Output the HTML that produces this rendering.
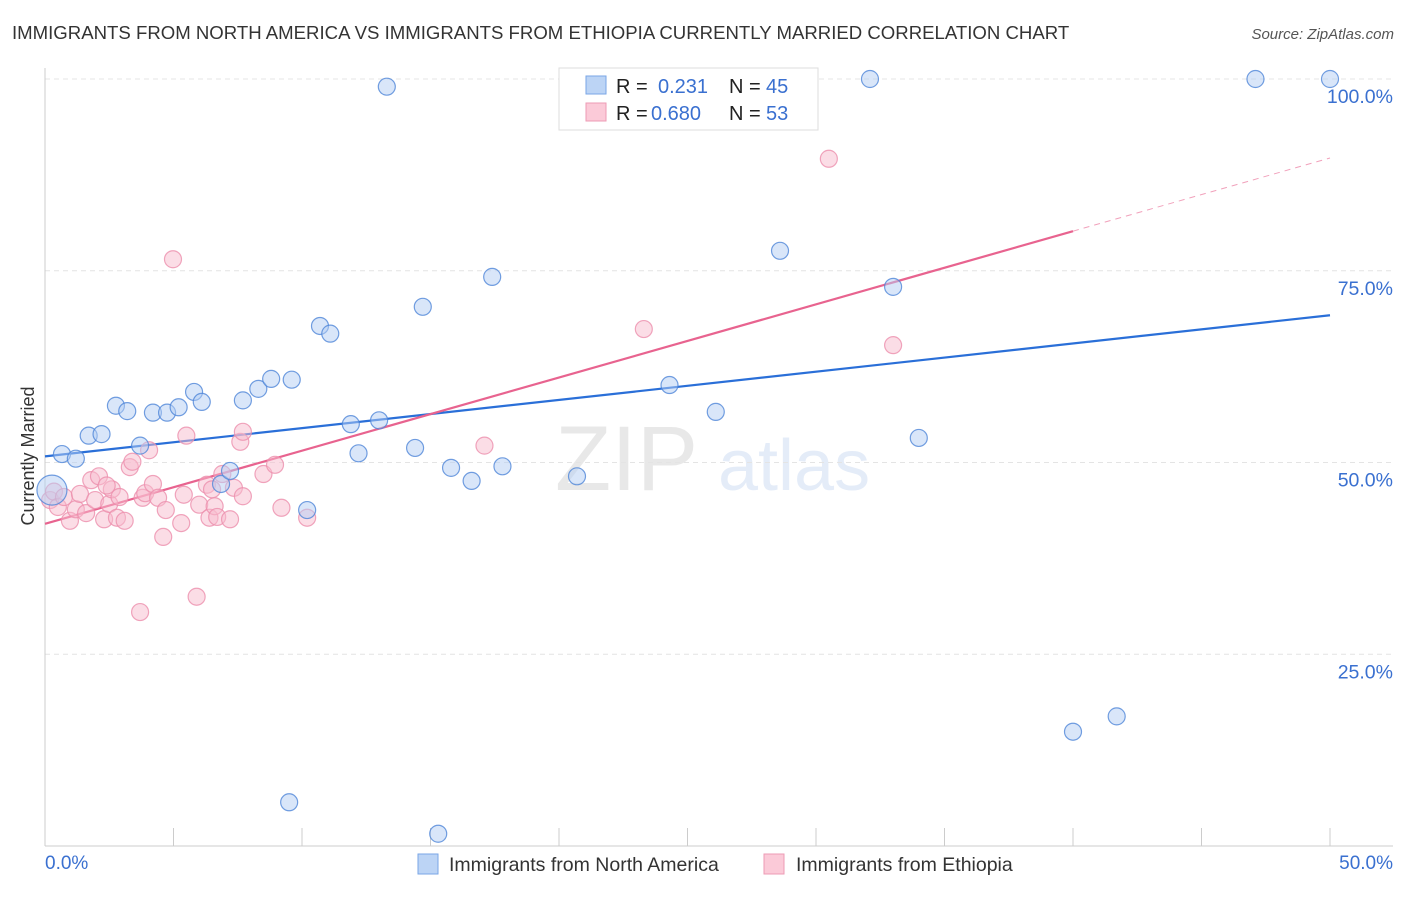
<!DOCTYPE html>
<html><head><meta charset="utf-8"><style>
body{margin:0;background:#fff;font-family:"Liberation Sans",sans-serif}
svg text{font-family:"Liberation Sans",sans-serif}
</style></head><body>
<svg id="chart" width="1406" height="892" xmlns="http://www.w3.org/2000/svg">
<text x="12" y="39" font-size="18.6" fill="#333">IMMIGRANTS FROM NORTH AMERICA VS IMMIGRANTS FROM ETHIOPIA CURRENTLY MARRIED CORRELATION CHART</text>
<text x="1394" y="39" font-size="15" fill="#555" text-anchor="end" font-style="italic">Source: ZipAtlas.com</text>
<g opacity="0.14">
<text x="555" y="490" font-size="92" fill="#666" font-family="Liberation Serif">ZIP</text>
<text x="718" y="490" font-size="72" fill="#4a7fd4">atlas</text>
</g>
<g id="grid"></g>
<g id="axes"></g>
<g id="lines"></g>
<g id="points"></g>
<text transform="translate(34,456) rotate(-90)" font-size="18" fill="#333" text-anchor="middle">Currently Married</text>
<text x="45" y="869" font-size="19" fill="#3a70d0">0.0%</text>
<text x="1393" y="869" font-size="19" fill="#3a70d0" text-anchor="end">50.0%</text>
<g>
<rect x="559" y="68" width="259" height="62" fill="#fff" stroke="#ddd"/>
<rect x="586" y="76" width="20" height="18" fill="#bcd4f5" stroke="#7aa6e6"/>
<rect x="586" y="103" width="20" height="18" fill="#fbcad8" stroke="#ee9bb5"/>
<text x="616" y="93" font-size="20" fill="#222">R =</text><text x="658" y="93" font-size="20" fill="#3a70d0">0.231</text>
<text x="729" y="93" font-size="20" fill="#222">N =</text><text x="766" y="93" font-size="20" fill="#3a70d0">45</text>
<text x="616" y="120" font-size="20" fill="#222">R =</text><text x="651" y="120" font-size="20" fill="#3a70d0">0.680</text>
<text x="729" y="120" font-size="20" fill="#222">N =</text><text x="766" y="120" font-size="20" fill="#3a70d0">53</text>
</g>
<g>
<rect x="418" y="854" width="20" height="20" fill="#bcd4f5" stroke="#7aa6e6"/>
<text x="449" y="871" font-size="19.5" fill="#333">Immigrants from North America</text>
<rect x="764" y="854" width="20" height="20" fill="#fbcad8" stroke="#ee9bb5"/>
<text x="796" y="871" font-size="19.5" fill="#333">Immigrants from Ethiopia</text>
</g>
</svg>
<script>
const blueX=[0.27,0.66,1.2,1.7,2.2,2.76,3.2,3.7,4.2,4.75,5.2,5.8,6.1,6.85,7.2,7.7,8.3,8.8,9.6,10.2,10.7,11.1,11.9,12.2,13.0,13.3,14.4,14.7,15.8,16.6,17.4,17.8,20.7,24.3,26.1,28.6,32.1,33.0,34.0,40.0,41.7,47.1,50,9.5,15.3];
const blueY=[46.4,51.1,50.5,53.5,53.7,57.4,56.7,52.2,56.5,56.5,57.2,59.2,57.9,47.2,48.9,58.1,59.6,60.9,60.8,43.8,67.8,66.8,55.0,51.2,55.5,99.0,51.9,70.3,49.3,47.6,74.2,49.5,48.2,60.1,56.6,77.6,100,72.9,53.2,14.9,16.9,100,100,5.7,1.6];
const pinkX=[0.2,0.35,0.5,0.74,0.97,1.2,1.36,1.6,1.8,2.1,1.95,2.3,2.5,2.6,2.9,2.8,3.1,3.3,3.4,3.7,3.8,3.9,4.05,4.2,4.4,4.6,4.7,4.98,5.3,5.4,5.5,5.9,6.0,6.3,6.4,6.6,6.7,6.9,7.2,7.35,7.6,7.7,7.7,8.5,8.95,9.2,10.2,17.1,23.3,30.5,33.0,2.4,6.5];
const pinkY=[45.1,46.2,44.2,45.5,42.4,43.9,45.9,43.4,47.7,48.2,45.1,42.6,44.6,46.5,45.5,42.8,42.4,49.4,50.1,30.5,45.4,46.0,51.6,47.2,45.4,40.3,43.8,76.5,42.1,45.8,53.5,32.5,44.5,47.1,42.8,44.3,42.9,48.5,42.6,46.7,52.7,54.0,45.6,48.5,49.7,44.1,42.8,52.2,67.4,89.6,65.3,47.0,46.5];
const blueTrend=[50.8,69.2];
const pinkTrend=[42.0,89.7];
const pinkSolidEnd=40;
const yTicks=[25,50,75,100];
const yTickLabels=["25.0%","50.0%","75.0%","100.0%"];
const xTicks=[0,5,10,15,20,25,30,35,40,45,50];
const NS="http://www.w3.org/2000/svg";
const sx=v=>45+v/50*1285, sy=v=>846-v*7.67;
function mk(p,t,a){const e=document.createElementNS(NS,t);for(const k in a)e.setAttribute(k,a[k]);document.getElementById(p).appendChild(e);return e;}
yTicks.forEach((t,i)=>{
 const g=mk('grid','line',{x1:45,x2:1393,y1:sy(t),y2:sy(t),stroke:'#e4e4e4','stroke-dasharray':'5,4'});
 
 
 const l=mk('grid','text',{x:1393,y:sy(t)+24,'font-size':19.5,fill:'#3a70d0','text-anchor':'end'});l.textContent=yTickLabels[i];
 
 
});
mk('axes','line',{x1:45,x2:45,y1:68,y2:846,stroke:'#ccc'});
mk('axes','line',{x1:45,x2:1393,y1:846,y2:846,stroke:'#ccc'});
xTicks.forEach(t=>{const e=mk('axes','line',{x1:sx(t),x2:sx(t),y1:828,y2:846,stroke:'#ccc'});
 
 });
function pts(X,Y,fill,stroke,name){X.forEach((x,i)=>{const c=mk('points','circle',{cx:sx(x),cy:sy(Y[i]),r:(name=='blue-point'&&i==0)?15:8.5,fill:fill,'fill-opacity':0.5,stroke:stroke,'stroke-opacity':0.8,'stroke-width':1.2});
 
 });}
pts(pinkX,pinkY,'#f8bccd','#ec8fac','pink-point');
pts(blueX,blueY,'#b4cef3','#4f86d8','blue-point');
const bl=mk('lines','line',{x1:sx(0),y1:sy(blueTrend[0]),x2:sx(50),y2:sy(blueTrend[1]),stroke:'#2a6fd8','stroke-width':2.2});


const pe=pinkTrend[0]+(pinkTrend[1]-pinkTrend[0])*pinkSolidEnd/50;
const pl=mk('lines','line',{x1:sx(0),y1:sy(pinkTrend[0]),x2:sx(pinkSolidEnd),y2:sy(pe),stroke:'#e8638f','stroke-width':2.2});


const pd=mk('lines','line',{x1:sx(pinkSolidEnd),y1:sy(pe),x2:sx(50),y2:sy(pinkTrend[1]),stroke:'#e8638f','stroke-width':1,'stroke-dasharray':'6,5',opacity:0.6});


</script>
</body></html>
